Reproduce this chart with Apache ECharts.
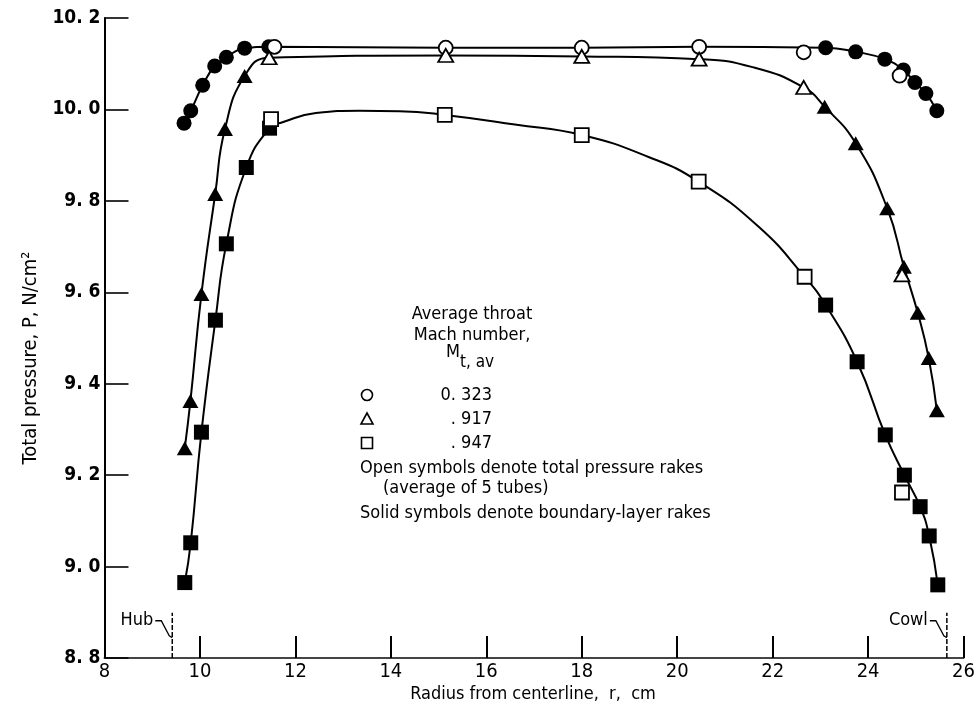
<!DOCTYPE html>
<html>
<head>
<meta charset="utf-8">
<script src="https://cdn.jsdelivr.net/npm/echarts@6/dist/echarts.min.js"></script>
<style>
  html, body { margin: 0; padding: 0; background: #fff; }
  #chart { width: 978px; height: 708px; }
</style>
</head>
<body>
<div id="chart"></div>
<script>
// Radial total-pressure surveys at the compressor throat, three Mach numbers.

// Axis ticks
const xTicks = [8, 10, 12, 14, 16, 18, 20, 22, 24, 26];
const yTicks = [8.8, 9.0, 9.2, 9.4, 9.6, 9.8, 10.0, 10.2];

// M = 0.323 (circles)
const circleSolidR = [9.667, 9.807, 10.058, 10.309, 10.553, 10.936, 11.443, 23.11, 23.74, 24.35, 24.74, 24.98, 25.21, 25.44];
const circleSolidP = [9.970, 9.997, 10.053, 10.095, 10.114, 10.134, 10.137, 10.135, 10.126, 10.110, 10.086, 10.059, 10.035, 9.997];
const circleOpenR = [11.56, 15.15, 18.0, 20.46, 22.65, 24.66];
const circleOpenP = [10.137, 10.135, 10.135, 10.137, 10.125, 10.074];
const circleCurveR = [9.667, 9.807, 10.058, 10.309, 10.553, 10.936, 11.443, 15.15, 18.0, 20.46, 23.11, 23.74, 24.35, 24.74, 24.98, 25.21, 25.44];
const circleCurveP = [9.970, 9.997, 10.053, 10.095, 10.114, 10.134, 10.137, 10.135, 10.135, 10.137, 10.135, 10.126, 10.110, 10.086, 10.059, 10.035, 9.997];

// M = 0.917 (triangles)
const triSolidR = [9.682, 9.80, 10.031, 10.32, 10.524, 10.936, 23.09, 23.74, 24.40, 24.75, 25.04, 25.27, 25.44];
const triSolidP = [9.259, 9.362, 9.596, 9.815, 9.957, 10.073, 10.006, 9.926, 9.784, 9.656, 9.555, 9.456, 9.342];
const triOpenR = [11.45, 15.15, 18.0, 20.46, 22.65, 24.71];
const triOpenP = [10.113, 10.118, 10.116, 10.110, 10.048, 9.638];
const triCurveR = [9.682, 9.80, 10.031, 10.32, 10.524, 10.936, 11.45, 15.15, 18.0, 20.46, 21.6, 22.65, 23.09, 23.74, 24.40, 24.75, 25.04, 25.27, 25.44];
const triCurveP = [9.259, 9.362, 9.596, 9.815, 9.957, 10.073, 10.113, 10.118, 10.116, 10.110, 10.092, 10.048, 10.006, 9.926, 9.784, 9.656, 9.555, 9.456, 9.342];

// M = 0.947 (squares)
const sqSolidR = [9.682, 9.807, 10.031, 10.324, 10.553, 10.971, 11.458, 23.11, 23.77, 24.36, 24.76, 25.09, 25.28, 25.46];
const sqSolidP = [8.965, 9.052, 9.294, 9.539, 9.706, 9.873, 9.959, 9.572, 9.448, 9.288, 9.200, 9.131, 9.067, 8.960];
const sqOpenR = [11.49, 15.13, 18.0, 20.45, 22.67, 24.71];
const sqOpenP = [9.979, 9.988, 9.944, 9.842, 9.634, 9.162];
const sqCurveR = [9.682, 9.807, 10.031, 10.324, 10.553, 10.971, 11.458, 11.73, 12.43, 13.34, 14.18, 15.13, 16.6, 18.0, 19.4, 20.45, 21.69, 22.67, 23.11, 23.77, 24.36, 24.76, 25.09, 25.28, 25.46];
const sqCurveP = [8.965, 9.052, 9.294, 9.539, 9.706, 9.873, 9.959, 9.972, 9.992, 9.997, 9.996, 9.988, 9.967, 9.944, 9.896, 9.842, 9.745, 9.634, 9.572, 9.448, 9.288, 9.200, 9.131, 9.067, 8.960];

// Legend entries
const legendValues = ['0. 323', '. 917', '. 947'];
const legendSymbols = ['circle', 'triangle', 'rect'];

// Flow-path walls
const HUB_R = 9.42;
const COWL_R = 25.65;
const WALL_MARK_TOP = 8.899;

const FONT = '"DejaVu Sans Condensed", "DejaVu Sans", sans-serif';
const INK = '#000';

const zip = (a, b) => a.map((v, i) => [v, b[i]]);

const chart = echarts.init(document.getElementById('chart'), null, { renderer: 'canvas' });

function curve(r, p) {
  return {
    type: 'line', data: zip(r, p), smooth: 0.5,
    symbol: 'none', silent: true, z: 2,
    lineStyle: { color: INK, width: 2, opacity: 1 }
  };
}
function marks(r, p, symbol, size, open) {
  return {
    type: 'scatter', data: zip(r, p), symbol, symbolSize: size, silent: true,
    z: open ? 4 : 3,
    itemStyle: open
      ? { color: '#fff', borderColor: INK, borderWidth: 1.8, opacity: 1 }
      : { color: INK, opacity: 1 }
  };
}
function wall(r) {
  return {
    type: 'line', data: [[r, 8.8], [r, WALL_MARK_TOP]], symbol: 'none', silent: true, z: 2,
    lineStyle: { color: INK, width: 1.5, type: [5, 2] }
  };
}

chart.setOption({
  animation: false,
  backgroundColor: '#fff',
  grid: { left: 104.5, right: 12, top: 18, bottom: 50 },
  xAxis: {
    type: 'value', min: 8, max: 26, interval: 2,
    axisLine: { lineStyle: { color: '#444', width: 2 } },
    axisTick: { inside: true, length: 22, lineStyle: { color: INK, width: 2 } },
    axisLabel: { fontFamily: FONT, fontSize: 20, color: INK, margin: 4,
      formatter: v => xTicks.includes(v) ? String(v) : '' },
    splitLine: { show: false }
  },
  yAxis: {
    type: 'value', min: 8.8, max: 10.2, interval: 0.2,
    axisLine: { show: true, lineStyle: { color: INK, width: 2 } },
    axisTick: { show: true, inside: true, length: 24, lineStyle: { color: INK, width: 1.6 } },
    axisLabel: { fontFamily: FONT, fontSize: 19, fontWeight: 'bold', color: INK, margin: 4,
      formatter: v => {
        const t = yTicks.find(k => Math.abs(k - v) < 1e-6);
        return t === undefined ? '' : t.toFixed(1).replace('.', '. ');
      } },
    splitLine: { show: false }
  },
  series: [
    curve(circleCurveR, circleCurveP),
    curve(triCurveR, triCurveP),
    curve(sqCurveR, sqCurveP),
    wall(HUB_R),
    wall(COWL_R),
    marks(circleSolidR, circleSolidP, 'circle', 15, false),
    marks(circleOpenR, circleOpenP, 'circle', 14, true),
    marks(triSolidR, triSolidP, 'triangle', [16, 14], false),
    marks(triOpenR, triOpenP, 'triangle', [15, 13], true),
    marks(sqSolidR, sqSolidP, 'rect', 15, false),
    marks(sqOpenR, sqOpenP, 'rect', 14, true)
  ]
});

// Annotations: axis titles, key and wall labels
const px = (r, p) => chart.convertToPixel({ gridIndex: 0 }, [r, p]);
const TEXT_SIZE = 18;
const txt = (x, y, text, extra) => ({
  type: 'text', x, y, silent: true,
  style: Object.assign({ text, fontFamily: FONT, fontSize: TEXT_SIZE, fill: INK, align: 'left', verticalAlign: 'middle' }, extra || {})
});

const graphics = [];
graphics.push(Object.assign(txt(31, 358, 'Total pressure, P, N/cm²', { align: 'center', fontSize: 20 }), { rotation: Math.PI / 2 }));
graphics.push(txt(533, 694, 'Radius from centerline,  r,  cm', { align: 'center' }));

// key
const keyCx = 472;
graphics.push(txt(keyCx, 314, 'Average throat', { align: 'center' }));
graphics.push(txt(keyCx, 335, 'Mach number,', { align: 'center' }));
graphics.push({
  type: 'text', x: keyCx - 2, y: 357, silent: true,
  style: {
    text: '{m|M}{s|t, av}', align: 'center', verticalAlign: 'middle',
    rich: {
      m: { fontFamily: FONT, fontSize: TEXT_SIZE, fill: INK, lineHeight: 28, verticalAlign: 'top' },
      s: { fontFamily: FONT, fontSize: TEXT_SIZE - 1, fill: INK, lineHeight: 28, verticalAlign: 'bottom' }
    }
  }
});
const keyRows = [395, 419, 443];
legendSymbols.forEach((s, i) => {
  const y = keyRows[i];
  if (s === 'circle') {
    graphics.push({ type: 'circle', shape: { cx: 367, cy: y, r: 5.5 }, silent: true,
      style: { fill: '#fff', stroke: INK, lineWidth: 1.6 } });
  } else if (s === 'triangle') {
    graphics.push({ type: 'polygon', shape: { points: [[367, y - 6], [373, y + 5], [361, y + 5]] }, silent: true,
      style: { fill: '#fff', stroke: INK, lineWidth: 1.6 } });
  } else {
    graphics.push({ type: 'rect', shape: { x: 361.5, y: y - 5.5, width: 11, height: 11 }, silent: true,
      style: { fill: '#fff', stroke: INK, lineWidth: 1.6 } });
  }
  graphics.push(txt(492, y, legendValues[i], { align: 'right' }));
});
graphics.push(txt(360, 468, 'Open symbols denote total pressure rakes'));
graphics.push(txt(383, 488, '(average of 5 tubes)'));
graphics.push(txt(360, 513, 'Solid symbols denote boundary-layer rakes'));

// wall labels with leader hooks
function wallLabel(r, label) {
  const base = px(r, WALL_MARK_TOP);
  const yText = base[1] + 8;
  const hx = base[0] - 17;
  graphics.push(txt(hx - 2, yText, label, { align: 'right' }));
  graphics.push({
    type: 'polyline', silent: true,
    shape: { points: [[hx, yText], [hx + 6, yText], [base[0] - 3, yText + 15], [base[0], yText + 17]] },
    style: { stroke: INK, lineWidth: 1.3, fill: null }
  });
}
wallLabel(HUB_R, 'Hub');
wallLabel(COWL_R, 'Cowl');

chart.setOption({ graphic: graphics });
</script>
</body>
</html>
